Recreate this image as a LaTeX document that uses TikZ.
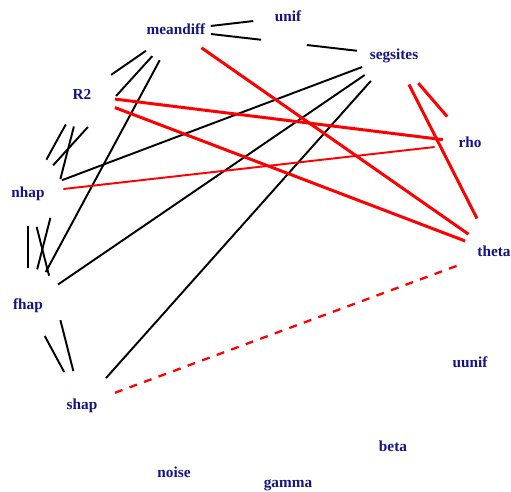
\documentclass[tikz,border=0pt]{standalone}
\usepackage{fontspec}
\setmainfont{Liberation Serif}
\usetikzlibrary{calc}
\definecolor{lblnavy}{RGB}{20,20,135}

\begin{document}
\begin{tikzpicture}[x=0.02cm, y=-0.02cm,
  var/.style={text=lblnavy, font=\bfseries\fontsize{8.7}{10}\selectfont,
    inner sep=0pt, text height=0.68em, text depth=0.2em},
  blk/.style={black, line width=1.1pt},
  rd/.style={red, line width=1.7pt},
  rdthin/.style={red, line width=1.1pt},
  rddash/.style={red, line width=1.3pt, dash pattern=on 0.16cm off 0.15cm}]
\useasboundingbox (0,0) rectangle (511,491);

\node[var] (meandiff) at (176,30) {meandiff};
\node[var] (unif) at (288,17) {unif};
\node[var] (segsites) at (394,55) {segsites};
\node[var] (R2) at (82,95) {R2};
\node[var] (rho) at (470,143) {rho};
\node[var] (nhap) at (28,193) {nhap};
\node[var] (theta) at (494,252) {theta};
\node[var] (fhap) at (28,305) {fhap};
\node[var] (uunif) at (470,363) {uunif};
\node[var] (shap) at (82,405) {shap};
\node[var] (beta) at (393,447) {beta};
\node[var] (noise) at (174,473) {noise};
\node[var] (gamma) at (288,483) {gamma};

% black edges
\draw[blk] ($(meandiff)!.31!(unif)$) -- ($(meandiff)!.69!(unif)$);
\draw[blk] ($(meandiff)!.16!(segsites)$) -- ($(meandiff)!.39!(segsites)$);
\draw[blk] ($(meandiff)!.60!(segsites)$) -- ($(meandiff)!.83!(segsites)$);
\draw[blk] ($(R2)!.31!(meandiff)$) -- ($(R2)!.68!(meandiff)$);
\draw[blk] ($(nhap)!.17!(meandiff)$) -- ($(nhap)!.405!(meandiff)$);
\draw[blk] ($(nhap)!.595!(meandiff)$) -- ($(nhap)!.84!(meandiff)$);
\draw[blk] ($(nhap)!.34!(R2)$) -- ($(nhap)!.70!(R2)$);
\draw[blk] ($(fhap)!.17!(R2)$) -- ($(fhap)!.415!(R2)$);
\draw[blk] ($(fhap)!.60!(R2)$) -- ($(fhap)!.85!(R2)$);
\draw[blk] ($(nhap)!.093!(segsites)$) -- ($(nhap)!.913!(segsites)$);
\draw[blk] ($(fhap)!.082!(segsites)$) -- ($(fhap)!.92!(segsites)$);
\draw[blk] ($(shap)!.077!(segsites)$) -- ($(shap)!.926!(segsites)$);
\draw[blk] ($(fhap)!.12!(meandiff)$) -- ($(fhap)!.89!(meandiff)$);
\draw[blk] ($(fhap)!.33!(nhap)$) -- ($(fhap)!.705!(nhap)$);
\draw[blk] ($(nhap)!.16!(shap)$) -- ($(nhap)!.39!(shap)$);
\draw[blk] ($(nhap)!.60!(shap)$) -- ($(nhap)!.84!(shap)$);
\draw[blk] ($(fhap)!.31!(shap)$) -- ($(fhap)!.67!(shap)$);

% red edges
\draw[rd] ($(meandiff)!.08!(theta)$) -- ($(meandiff)!.92!(theta)$);
\draw[rd] ($(R2)!.085!(rho)$) -- ($(R2)!.93!(rho)$);
\draw[rd] ($(R2)!.08!(theta)$) -- ($(R2)!.93!(theta)$);
\draw[rdthin] ($(nhap)!.08!(rho)$) -- ($(nhap)!.92!(rho)$);
\draw[rd] ($(segsites)!.15!(theta)$) -- ($(segsites)!.83!(theta)$);
\draw[rd] ($(segsites)!.32!(rho)$) -- ($(segsites)!.70!(rho)$);
\draw[rddash] ($(shap)!.08!(theta)$) -- ($(shap)!.92!(theta)$);

\end{tikzpicture}
\end{document}
